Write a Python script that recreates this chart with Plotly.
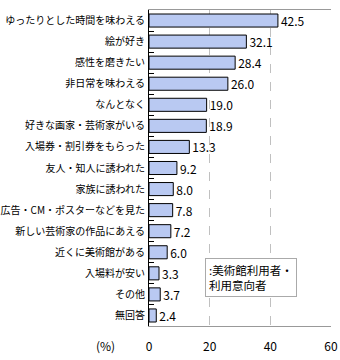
import plotly.graph_objects as go

categories = ["ゆったりとした時間を味わえる", "絵が好き", "感性を磨きたい", "非日常を味わえる",
              "なんとなく", "好きな画家・芸術家がいる", "入場券・割引券をもらった", "友人・知人に誘われた",
              "家族に誘われた", "広告・CM・ポスターなどを見た", "新しい芸術家の作品にあえる",
              "近くに美術館がある", "入場料が安い", "その他", "無回答"]
values = [42.5, 32.1, 28.4, 26.0, 19.0, 18.9, 13.3, 9.2, 8.0, 7.8, 7.2, 6.0, 3.3, 3.7, 2.4]
x_ticks = [0, 20, 40, 60]

font_family = "Noto Sans CJK JP"

fig = go.Figure()
fig.add_trace(go.Bar(
    y=categories, x=values, orientation="h",
    marker=dict(color="#b9c9f2", line=dict(color="#000000", width=1)),
    width=0.62,
    text=[f"{v:.1f}" for v in values], textposition="outside",
    textfont=dict(size=12, color="#000000", family=font_family),
    constraintext="none",
    cliponaxis=False,
))

fig.update_layout(
    width=340, height=360,
    margin=dict(l=149, r=9, t=10, b=34),
    paper_bgcolor="white", plot_bgcolor="white",
    showlegend=False,
    font=dict(family=font_family, size=11, color="#000000"),
    xaxis=dict(range=[0, 60], tickvals=x_ticks, ticktext=[str(t) for t in x_ticks],
               showgrid=True, gridcolor="#c0c0c0", griddash="dash", gridwidth=1,
               showline=True, linecolor="#999999", linewidth=1, mirror=True,
               zeroline=False, ticks="", tickfont=dict(size=12), automargin=False,
               ticklabelstandoff=10),
    yaxis=dict(autorange="reversed", showline=True, linecolor="#000000", linewidth=1,
               ticks="inside", tickson="boundaries", ticklen=5, tickcolor="#000000",
               showgrid=False, tickfont=dict(size=10), automargin=False,
               ticklabelstandoff=1),
    bargap=0.38,
)

fig.add_annotation(xref="paper", yref="paper", x=-0.24, y=-0.061, text="(%)",
                   showarrow=False, xanchor="center", yanchor="middle",
                   font=dict(size=12))
fig.add_annotation(xref="x", yref="paper", x=18.5, y=0.153,
                   text=":美術館利用者・<br>利用意向者", align="left",
                   showarrow=False, xanchor="left", yanchor="middle",
                   bordercolor="#aaaaaa", borderwidth=1, borderpad=3,
                   bgcolor="white", font=dict(size=11.5))

fig.write_html("out.html")
